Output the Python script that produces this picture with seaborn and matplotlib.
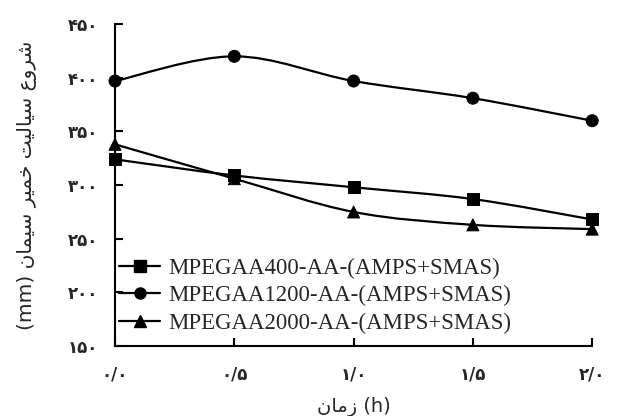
import numpy as np
import pandas as pd
import matplotlib
matplotlib.use('Agg')
import matplotlib.pyplot as plt
from matplotlib.path import Path
from matplotlib.patches import PathPatch
from matplotlib.lines import Line2D
import seaborn as sns

# -----------------------------------------------
# data
# -----------------------------------------------
time_h = [0.0, 0.5, 1.0, 1.5, 2.0]
flow_400 = [324, 309, 298, 287, 268]
flow_1200 = [397, 420, 397, 381, 360]
flow_2000 = [338, 306, 275, 263, 259]
series_names = ['MPEGAA400-AA-(AMPS+SMAS)',
                'MPEGAA1200-AA-(AMPS+SMAS)',
                'MPEGAA2000-AA-(AMPS+SMAS)']
y_ticks = [150, 200, 250, 300, 350, 400, 450]
y_tick_labels = ['۱۵۰', '۲۰۰', '۲۵۰', '۳۰۰', '۳۵۰', '۴۰۰', '۴۵۰']
x_tick_labels = ['۰/۰', '۰/۵', '۱/۰', '۱/۵', '۲/۰']

# Persian labels written in shaped, visual (left-to-right) order
x_label = '\uFEE5\uFE8E\uFEE3\uFEAF (h)'   # zaman (h)
y_label = ('(mm) '
           '\uFEE5\uFE8E\uFEE4\uFBFF\uFEB3 '          # siman
           '\uFEAE\uFBFF\uFEE4\uFEA7 '                # khamir
           '\uFE96\uFBFF\uFEDF\uFE8E\uFBFF\uFEB3 '    # sialit
           '\uFEC9\uFEED\uFEAE\uFEB7')                # shoroo

df = pd.DataFrame({
    'time': time_h * 3,
    'flow': flow_400 + flow_1200 + flow_2000,
    'series': [series_names[0]] * 5 + [series_names[1]] * 5 + [series_names[2]] * 5,
})
marker_map = {series_names[0]: 's', series_names[1]: 'o', series_names[2]: '^'}

sns.set_style('white')
plt.rcParams['font.family'] = ['DejaVu Sans']

fig = plt.figure(figsize=(6.32, 4.16), dpi=100)
ax = fig.add_axes([0.182, 0.168, 0.755, 0.774])


def smooth_path(xs, ys):
    # catmull-rom style bezier through the points (like excel's smoothed line)
    pts = list(zip(xs, ys))
    verts = [pts[0]]
    codes = [Path.MOVETO]
    n = len(pts)
    for i in range(n - 1):
        p0 = np.array(pts[max(i - 1, 0)])
        p1 = np.array(pts[i])
        p2 = np.array(pts[i + 1])
        p3 = np.array(pts[min(i + 2, n - 1)])
        c1 = p1 + (p2 - p0) / 6
        c2 = p2 - (p3 - p1) / 6
        verts += [tuple(c1), tuple(c2), tuple(p2)]
        codes += [Path.CURVE4] * 3
    return Path(verts, codes)


for name in series_names:
    sub = df[df['series'] == name]
    ax.add_patch(PathPatch(smooth_path(sub['time'].tolist(), sub['flow'].tolist()),
                           fill=False, edgecolor='black', lw=1.6, zorder=2))

sns.scatterplot(data=df, x='time', y='flow', style='series', markers=marker_map,
                color='black', edgecolor='black', s=75, legend=False, ax=ax,
                zorder=3, clip_on=False)

ax.set_xlim(0, 2.0)
ax.set_ylim(150, 450)
ax.set_xticks(time_h)
ax.set_xticklabels(x_tick_labels, fontsize=12, fontweight='bold')
ax.set_yticks(y_ticks)
ax.set_yticklabels(y_tick_labels, fontsize=12, fontweight='bold')
ax.tick_params(direction='in', length=6, width=1.5, color='black', pad=12,
               bottom=True, left=True)
ax.tick_params(axis='x', pad=14)

for side in ['top', 'right']:
    ax.spines[side].set_visible(False)
for side in ['left', 'bottom']:
    ax.spines[side].set_color('black')
    ax.spines[side].set_linewidth(1.5)

ax.set_xlabel(x_label, fontsize=14, labelpad=10)
ax.set_ylabel(y_label, fontsize=14.5, labelpad=22)

handles = [Line2D([0], [0], color='black', lw=1.6, marker=marker_map[n],
                  markersize=8) for n in series_names]
ax.legend(handles, series_names, loc='lower left', bbox_to_anchor=(-0.02, -0.005),
          frameon=False, prop={'family': 'Liberation Serif', 'size': 16.5},
          handlelength=1.8, handletextpad=0.35, labelspacing=0.28,
          borderaxespad=0.2)

fig.savefig('out.png', dpi=100)
